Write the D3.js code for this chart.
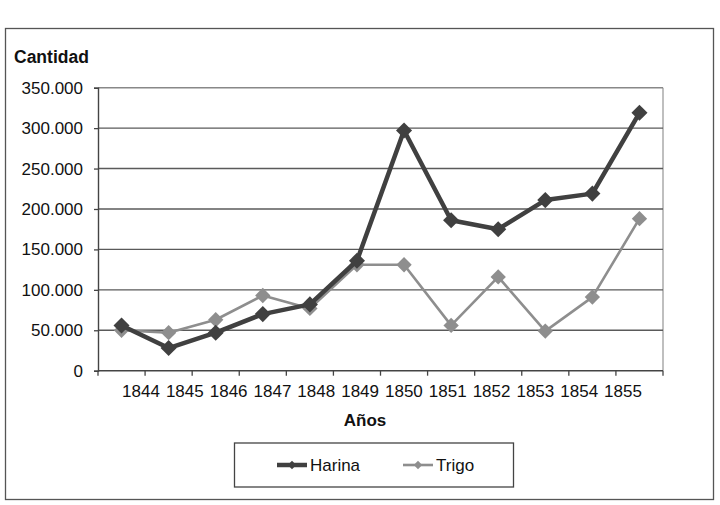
<!DOCTYPE html>
<html>
<head>
<meta charset="utf-8">
<script src="https://cdn.jsdelivr.net/npm/d3@7"></script>
<style>
  html, body { margin: 0; padding: 0; background: #fff; }
  svg { display: block; font-family: "Liberation Sans", Arial, sans-serif; }
</style>
</head>
<body>
<svg id="chart" width="720" height="505"></svg>
<script>
const years = ["1844","1845","1846","1847","1848","1849","1850","1851","1852","1853","1854","1855"];
const harina = [56000, 28000, 47000, 70000, 82000, 136000, 297000, 186000, 175000, 211000, 219000, 319000];
const trigo  = [50000, 47000, 63000, 93000, 77000, 131000, 131000, 56000, 116000, 49000, 91000, 188000];
const yTicks = [0, 50000, 100000, 150000, 200000, 250000, 300000, 350000];
const seriesNames = ["Harina", "Trigo"];
const seriesColors = ["#404040", "#8e8e8e"];

const svg = d3.select("#chart");
const pL = 98, pR = 663, pT = 87.7, pB = 370.7;

// outer border
svg.append("rect").attr("x", 5.5).attr("y", 28.5).attr("width", 708).attr("height", 471)
  .attr("fill", "#fff").attr("stroke", "#555").attr("stroke-width", 1.3);

const x = d3.scaleBand().domain(years).range([pL, pR]).paddingInner(0).paddingOuter(0);
const y = d3.scaleLinear().domain([0, 350000]).range([pB, pT]);
const xLabel = d3.scalePoint().domain(years).range([pL + 43, pR - 40]);

const fmt = v => v === 0 ? "0" : d3.format(",")(v).replace(/,/g, ".");

// plot right border (lighter)
svg.append("line").attr("x1", pR).attr("x2", pR).attr("y1", pT).attr("y2", pB)
  .attr("stroke", "#aaa").attr("stroke-width", 1.5);

// gridlines
svg.append("g").selectAll("line").data(yTicks.filter(d => d > 0)).join("line")
  .attr("x1", pL).attr("x2", pR)
  .attr("y1", d => y(d)).attr("y2", d => y(d))
  .attr("stroke", d => d === 350000 ? "#888" : "#5a5a5a").attr("stroke-width", 1.4);

// y axis
const yAxis = svg.append("g").attr("transform", `translate(${pL},0)`)
  .call(d3.axisLeft(y).tickValues(yTicks).tickFormat(fmt).tickSize(4).tickPadding(11));
yAxis.select(".domain").attr("stroke", "#444").attr("stroke-width", 1.4);
yAxis.selectAll(".tick line").attr("stroke", "#444").attr("stroke-width", 1.3);
yAxis.selectAll(".tick text").attr("font-size", 17).attr("fill", "#111")
  .attr("font-family", "Liberation Sans, Arial, sans-serif");

// x axis line & ticks at band boundaries
const xg = svg.append("g").attr("transform", `translate(0,${pB})`);
xg.append("line").attr("x1", pL).attr("x2", pR).attr("y1", 0).attr("y2", 0)
  .attr("stroke", "#444").attr("stroke-width", 1.4);
xg.selectAll("line.tk").data(years.concat(["end"])).join("line").attr("class", "tk")
  .attr("x1", (d, i) => i < years.length ? x(d) : pR)
  .attr("x2", (d, i) => i < years.length ? x(d) : pR)
  .attr("y1", 0).attr("y2", 5).attr("stroke", "#444").attr("stroke-width", 1.3);
xg.selectAll("text").data(years).join("text")
  .attr("x", d => xLabel(d)).attr("y", 26)
  .attr("text-anchor", "middle").attr("font-size", 17).attr("fill", "#111").text(d => d);

// titles
svg.append("text").attr("x", 14).attr("y", 63).attr("font-size", 17.5).attr("font-weight", "bold")
  .attr("fill", "#111").text("Cantidad");
svg.append("text").attr("x", 365).attr("y", 426).attr("text-anchor", "middle")
  .attr("font-size", 17).attr("font-weight", "bold").attr("fill", "#111").text("Años");

// series
const allSeries = [harina, trigo];
const widths = [4.5, 2.6];
const markerSizes = [165, 150];
const line = d3.line().x((d, i) => x(years[i]) + x.bandwidth() / 2).y(d => y(d));

[1, 0].forEach(s => {
  const g = svg.append("g");
  g.append("path").datum(allSeries[s]).attr("d", line).attr("fill", "none")
    .attr("stroke", seriesColors[s]).attr("stroke-width", widths[s]).attr("stroke-linejoin", "round");
  g.selectAll("path.m").data(allSeries[s]).join("path").attr("class", "m")
    .attr("transform", (d, i) => `translate(${x(years[i]) + x.bandwidth() / 2},${y(d)})`)
    .attr("d", d3.symbol().type(d3.symbolDiamond2).size(markerSizes[s])()).attr("fill", seriesColors[s]);
});

// legend
const lg = svg.append("g");
lg.append("rect").attr("x", 234.5).attr("y", 443).attr("width", 279).attr("height", 44)
  .attr("fill", "#fff").attr("stroke", "#444").attr("stroke-width", 1.3);
const legX = [277, 403];
seriesNames.forEach((n, i) => {
  const cy = 465;
  lg.append("line").attr("x1", legX[i]).attr("x2", legX[i] + 30).attr("y1", cy).attr("y2", cy)
    .attr("stroke", seriesColors[i]).attr("stroke-width", widths[i]);
  lg.append("path").attr("transform", `translate(${legX[i] + 15},${cy})`)
    .attr("d", d3.symbol().type(d3.symbolDiamond2).size(45)()).attr("fill", seriesColors[i]);
  lg.append("text").attr("x", legX[i] + 33).attr("y", cy + 6).attr("font-size", 17)
    .attr("fill", "#111").text(n);
});
</script>
</body>
</html>
